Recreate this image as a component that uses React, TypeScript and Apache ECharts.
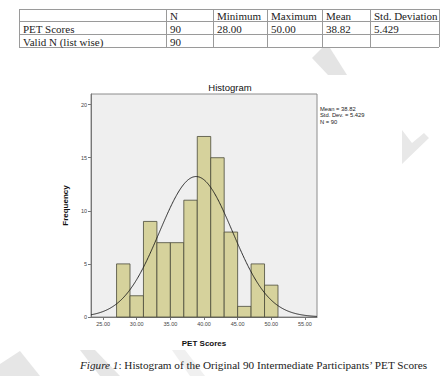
import React, { useEffect, useRef } from "react";
import * as echarts from "echarts";

// Histogram bins (lower edge, width 2) and their counts
const binStarts = [27, 29, 31, 33, 35, 37, 39, 41, 43, 45, 47, 49];
const binWidth = 2;
const frequencies = [5, 2, 9, 7, 7, 11, 17, 15, 8, 1, 5, 3];

// Axis ticks
const xTicks = [25, 30, 35, 40, 45, 50, 55];
const yTicks = [0, 5, 10, 15, 20];

// Descriptive statistics table
const tableHeader = ["", "N", "Minimum", "Maximum", "Mean", "Std. Deviation"];
const tableRows = [
  ["PET Scores", "90", "28.00", "50.00", "38.82", "5.429"],
  ["Valid N (list wise)", "90", "", "", "", ""],
];

// Summary figures used for the fitted normal curve
const meanScore = 38.82;
const stdDev = 5.429;
const sampleSize = 90;

const X_MIN = 23.2;
const X_MAX = 56.8;

function normalCurve(): number[][] {
  const pts: number[][] = [];
  const scale = (sampleSize * binWidth) / (stdDev * Math.sqrt(2 * Math.PI));
  for (let x = X_MIN; x <= X_MAX + 1e-9; x += 0.2) {
    const z = (x - meanScore) / stdDev;
    pts.push([+x.toFixed(2), scale * Math.exp(-0.5 * z * z)]);
  }
  return pts;
}

const colX = [19, 166, 213, 267, 322, 370, 439];
const rowY = [9, 21, 34, 47];

function tableGraphics(): any[] {
  const els: any[] = [];
  const lineStyle = { stroke: "#9a9a9a", lineWidth: 1 };
  rowY.forEach((y) => {
    els.push({ type: "line", shape: { x1: colX[0], y1: y + 0.5, x2: colX[colX.length - 1], y2: y + 0.5 }, style: lineStyle });
  });
  colX.forEach((x) => {
    els.push({ type: "line", shape: { x1: x + 0.5, y1: rowY[0], x2: x + 0.5, y2: rowY[rowY.length - 1] }, style: lineStyle });
  });
  const rows = [tableHeader, ...tableRows];
  rows.forEach((row, r) => {
    row.forEach((cell, c) => {
      if (!cell) return;
      els.push({
        type: "text",
        x: colX[c] + 4,
        y: (rowY[r] + rowY[r + 1]) / 2 + 1,
        style: {
          text: cell,
          font: '11px "Liberation Serif", serif',
          fill: "#222",
          textVerticalAlign: "middle",
        },
      });
    });
  });
  return els;
}

// Faint page watermark pieces behind the figure
function watermark(): any[] {
  const shapes: { pts: number[][]; fill: string }[] = [
    { pts: [[0, 364], [20, 351], [40, 376], [0, 376]], fill: "#e6e6e6" },
    { pts: [[80, 350], [95, 350], [120, 376], [100, 376]], fill: "#e6e6e6" },
    { pts: [[172, 350], [185, 350], [205, 376], [190, 376]], fill: "#f0f0f0" },
    { pts: [[312, 58], [322, 48], [330, 48], [347, 75], [328, 75]], fill: "#e4e4e4" },
    { pts: [[402, 130], [412, 143], [424, 133], [429, 138], [402, 164]], fill: "#e8e8e8" },
  ];
  return shapes.map((s) => ({ type: "polygon", z: -10, shape: { points: s.pts }, style: { fill: s.fill } }));
}

export default function App() {
  const ref = useRef<HTMLDivElement>(null);

  useEffect(() => {
    if (!ref.current) return;
    const chart = echarts.init(ref.current, undefined, { renderer: "svg" });
    const barData = binStarts.map((s, i) => [s, s + binWidth, frequencies[i]]);

    chart.setOption({
      animation: false,
      backgroundColor: "#ffffff",
      grid: {
        left: 91,
        top: 94,
        width: 226,
        height: 223,
        show: true,
        backgroundColor: "#efefef",
        borderColor: "#8c8c8c",
        borderWidth: 1,
      },
      xAxis: {
        type: "value",
        min: X_MIN,
        max: X_MAX,
        name: "PET Scores",
        nameLocation: "middle",
        nameGap: 22,
        nameTextStyle: { fontFamily: "Liberation Sans", fontWeight: "bold", fontSize: 8, color: "#111" },
        axisLine: { show: true, lineStyle: { color: "#777" } },
        axisTick: { show: true, length: 3, customValues: xTicks, lineStyle: { color: "#777" } },
        axisLabel: {
          customValues: xTicks,
          formatter: (v: number) => v.toFixed(2),
          fontFamily: "Liberation Sans",
          fontSize: 5.5,
          color: "#444",
          margin: 4,
        },
        splitLine: { show: false },
      },
      yAxis: {
        type: "value",
        min: 0,
        max: 21,
        name: "Frequency",
        nameLocation: "middle",
        nameGap: 18,
        nameRotate: 90,
        nameTextStyle: { fontFamily: "Liberation Sans", fontWeight: "bold", fontSize: 8, color: "#111" },
        axisLine: { show: true, lineStyle: { color: "#777" } },
        axisTick: { show: true, length: 3, customValues: yTicks, lineStyle: { color: "#777" } },
        axisLabel: {
          customValues: yTicks,
          fontFamily: "Liberation Sans",
          fontSize: 5.5,
          color: "#444",
          margin: 4,
        },
        splitLine: { show: false },
      },
      series: [
        {
          type: "custom",
          data: barData,
          encode: { x: [0, 1], y: 2 },
          renderItem: (_params: any, api: any) => {
            const p0 = api.coord([api.value(0), 0]);
            const p1 = api.coord([api.value(1), api.value(2)]);
            return {
              type: "rect",
              shape: { x: p0[0], y: p1[1], width: p1[0] - p0[0], height: p0[1] - p1[1] },
              style: { fill: "#d6d29c", stroke: "#4a4a3a", lineWidth: 0.8 },
            };
          },
          z: 2,
        },
        {
          type: "line",
          data: normalCurve(),
          showSymbol: false,
          smooth: true,
          lineStyle: { color: "#1a1a1a", width: 0.9 },
          z: 3,
        },
      ],
      graphic: [
        ...watermark(),
        ...tableGraphics(),
        {
          type: "text",
          x: 230,
          y: 87,
          style: {
            text: "Histogram",
            font: '9.5px "Liberation Sans", sans-serif',
            fill: "#111",
            textAlign: "center",
            textVerticalAlign: "middle",
          },
        },
        {
          type: "text",
          x: 320,
          y: 106,
          style: {
            text: "Mean = 38.82\nStd. Dev. = 5.429\nN = 90",
            font: '5.8px "Liberation Sans", sans-serif',
            lineHeight: 6.3,
            fill: "#222",
          },
        },
        {
          type: "text",
          x: 80,
          y: 365,
          style: {
            rich: {
              it: { fontStyle: "italic", fontFamily: "Liberation Serif", fontSize: 11.2, fill: "#222" },
              rg: { fontFamily: "Liberation Serif", fontSize: 11.2, fill: "#222" },
            },
            text: "{it|Figure 1}{rg|: Histogram of the Original 90 Intermediate Participants’ PET Scores}",
            textVerticalAlign: "middle",
          },
        },
      ],
    });

    return () => chart.dispose();
  }, []);

  return (
    <div
      ref={ref}
      style={{ position: "absolute", left: 0, top: 0, width: 443, height: 376, background: "#fff" }}
    />
  );
}
